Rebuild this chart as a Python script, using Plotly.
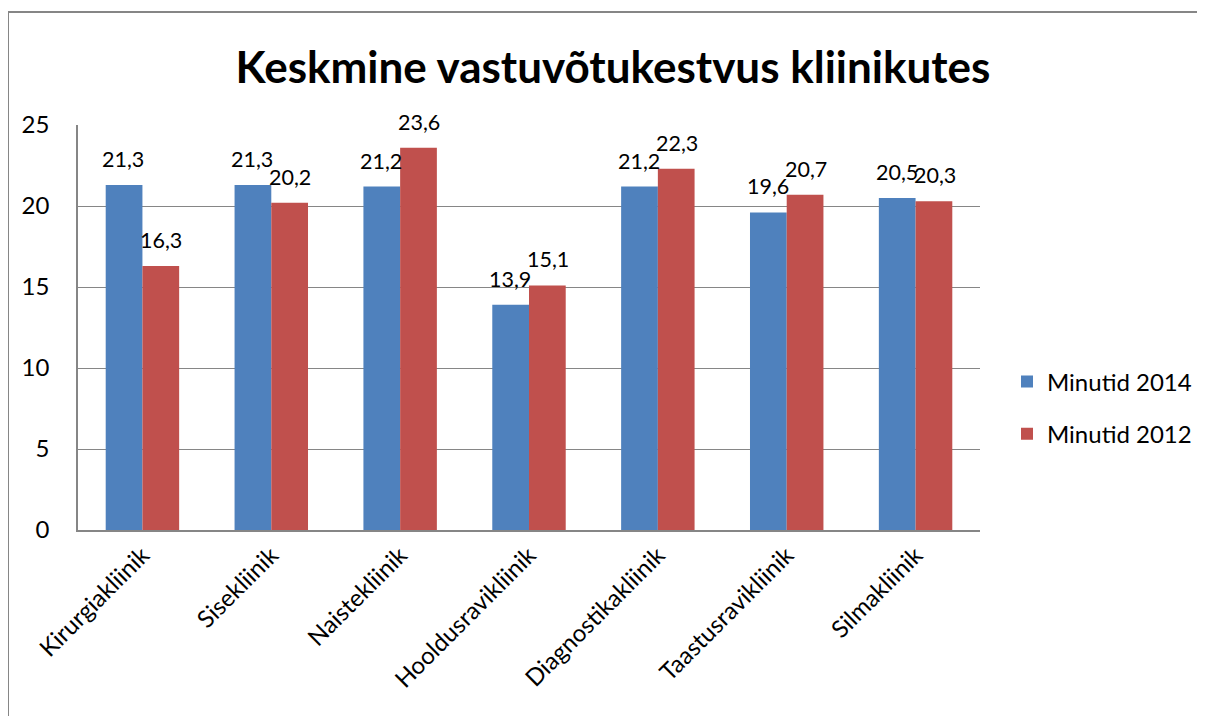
import plotly.graph_objects as go

categories = ["Kirurgiakliinik", "Sisekliinik", "Naistekliinik", "Hooldusravikliinik",
              "Diagnostikakliinik", "Taastusravikliinik", "Silmakliinik"]
minutid_2014 = [21.3, 21.3, 21.2, 13.9, 21.2, 19.6, 20.5]
minutid_2012 = [16.3, 20.2, 23.6, 15.1, 22.3, 20.7, 20.3]
y_ticks = [0, 5, 10, 15, 20, 25]

OFF = 8  # page body margin
W, H = 1205 - OFF, 716 - OFF
L, R, T, B = 78 - OFF, 980 - OFF, 125 - OFF, 530 - OFF
FONT = "Lato"


def px_x(p):
    return (p - OFF - L) / (R - L)


def px_y(p):
    return (B - (p - OFF)) / (B - T)


fig = go.Figure()
fig.add_trace(go.Bar(name="Minutid 2014", x=categories, y=minutid_2014, legendgroup="a",
                     marker=dict(color="#4F81BD", line=dict(width=0))))
fig.add_trace(go.Bar(name="Minutid 2012", x=categories, y=minutid_2012, legendgroup="b",
                     marker=dict(color="#C0504D", line=dict(width=0))))

annotations = []
for series, shift in ((minutid_2014, -19), (minutid_2012, 19)):
    for c, v in zip(categories, series):
        annotations.append(dict(x=c, y=v, xref="x", yref="y", text=f"{v:.1f}".replace(".", ","),
                                showarrow=False, xshift=shift, yshift=26,
                                font=dict(family=FONT, size=21.5, color="black")))

fig.update_layout(
    width=W, height=H,
    margin=dict(l=L, r=W - R, t=T, b=H - B, autoexpand=False),
    paper_bgcolor="white", plot_bgcolor="white",
    barmode="group", bargap=0.43, bargroupgap=0,
    title=dict(text="<b>Keskmine vastuvõtukestvus kliinikutes</b>", x=(613 - OFF) / W, xanchor="center",
               y=1 - (68 - OFF) / H, yanchor="middle",
               font=dict(family=FONT, size=44, color="black")),
    font=dict(family=FONT, size=24, color="black"),
    xaxis=dict(showgrid=False, showline=True, linecolor="#868686", linewidth=1.5,
               tickangle=-45, tickfont=dict(size=24), ticks="", ticklen=0),
    yaxis=dict(range=[0, 25], tickvals=y_ticks, showgrid=True, gridcolor="#868686", gridwidth=1,
               showline=True, linecolor="#868686", linewidth=1.5, zeroline=False,
               tickfont=dict(size=24), ticks="", ticklabelstandoff=22),
    legend=dict(x=px_x(1007), xanchor="left", y=px_y(408), yanchor="middle",
                font=dict(size=24), tracegroupgap=18, itemsizing="constant", bgcolor="rgba(0,0,0,0)"),
    annotations=annotations,
    shapes=[dict(type="rect", xref="paper", yref="paper",
                 x0=px_x(8), x1=px_x(1198), y0=px_y(730), y1=px_y(12),
                 line=dict(color="#868686", width=2), fillcolor="rgba(0,0,0,0)", layer="below")],
)

fig.write_html("out.html")
